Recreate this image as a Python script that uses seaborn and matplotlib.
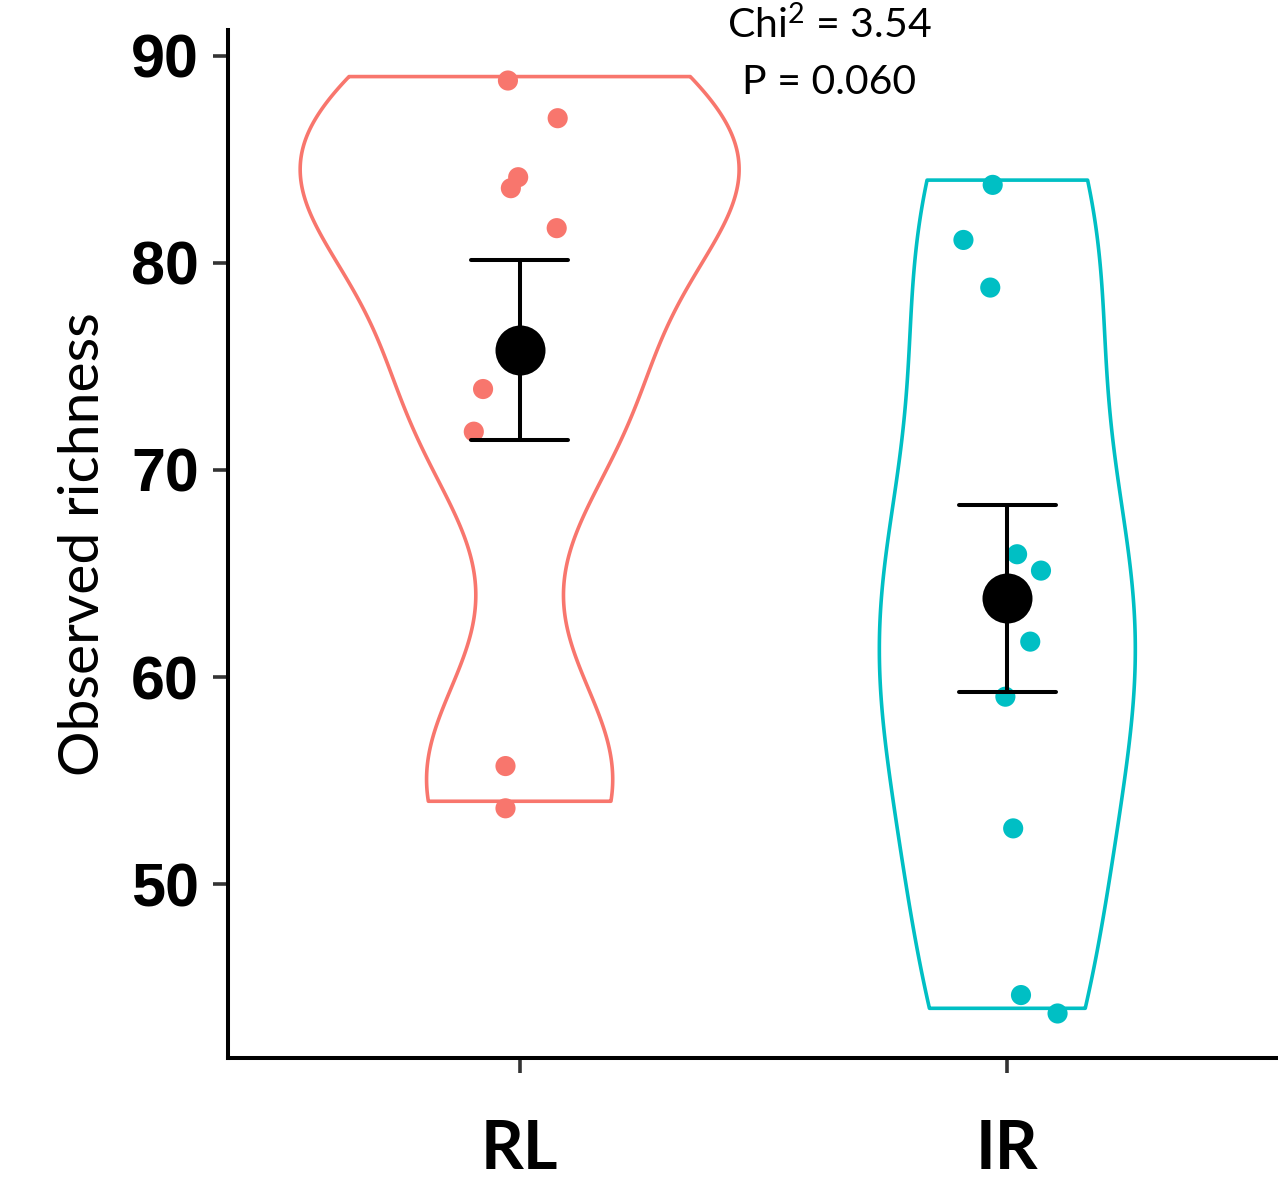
import numpy as np
import pandas as pd
import matplotlib
matplotlib.use("Agg")
import matplotlib.pyplot as plt
import seaborn as sns

# ---- data ----
groups = ["RL", "IR"]
colors = ["#F8766D", "#00BFC4"]

rl_values = [89, 87, 84, 84, 82, 74, 72, 56, 54]
ir_values = [84, 81, 79, 66, 65, 62, 59, 53, 45, 44]

# jitter of the plotted points (as seen in the figure)
rl_jitter_x = [-0.024, 0.078, -0.003, -0.018, 0.076, -0.075, -0.094, -0.029, -0.029]
rl_jitter_y = [-0.19, -0.01, 0.14, -0.39, -0.32, -0.09, -0.15, -0.30, -0.34]
ir_jitter_x = [-0.030, -0.090, -0.035, 0.020, 0.069, 0.047, -0.004, 0.012, 0.028, 0.103]
ir_jitter_y = [-0.23, 0.11, -0.19, -0.07, 0.14, -0.29, 0.05, -0.31, -0.36, -0.25]

y_ticks = [50, 60, 70, 80, 90]
stat_lines = ["Chi$^{2}$ = 3.54", "P = 0.060"]

df = pd.DataFrame({
    "group": ["RL"] * len(rl_values) + ["IR"] * len(ir_values),
    "value": rl_values + ir_values,
    "jx": rl_jitter_x + ir_jitter_x,
    "jy": rl_jitter_y + ir_jitter_y,
})
df["xpos"] = df["group"].map({g: i for i, g in enumerate(groups)}) + df["jx"]
df["ypos"] = df["value"] + df["jy"]


def nrd0_factor(kde):
    x = np.asarray(kde.dataset).ravel()
    sd = np.std(x, ddof=1)
    q1, q3 = np.percentile(x, [25, 75])
    bw = 0.9 * min(sd, (q3 - q1) / 1.34) * len(x) ** (-0.2)
    return bw / sd


sns.set_style("white")
plt.rcParams["text.color"] = "black"
plt.rcParams["axes.labelcolor"] = "black"
plt.rcParams["xtick.color"] = "black"
plt.rcParams["ytick.color"] = "black"
plt.rcParams["mathtext.fontset"] = "custom"
plt.rcParams["mathtext.rm"] = "Lato"
plt.rcParams["mathtext.it"] = "Lato"

fig = plt.figure(figsize=(12.78, 11.8), dpi=100)
ax = fig.add_axes([228 / 1278, 122 / 1180, 1 - 228 / 1278, 1028 / 1180])

sns.violinplot(data=df, x="group", y="value", hue="group", order=groups,
               hue_order=groups, palette=colors, fill=False, inner=None,
               cut=0, width=0.9, density_norm="area", common_norm=True,
               bw_method=nrd0_factor, gridsize=512, linewidth=2.6,
               legend=False, ax=ax)

sns.scatterplot(data=df, x="xpos", y="ypos", hue="group", hue_order=groups,
                palette=colors, s=210, linewidth=0, legend=False, ax=ax,
                zorder=3)

sns.pointplot(data=df, x="group", y="value", order=groups, errorbar="se",
              capsize=0.2, color="black", marker="o", linestyle="none",
              markersize=36, markeredgewidth=0,
              err_kws={"linewidth": 2.9}, ax=ax, zorder=5)

ax.set_xlim(-0.598, 1.555)
ax.set_ylim(41.6, 91.25)
ax.set_xticks(range(len(groups)))
ax.set_xticklabels(groups)
ax.set_yticks(y_ticks)
ax.set_yticklabels([str(t) for t in y_ticks])
ax.set_xlabel("")
ax.set_ylabel("Observed richness", fontsize=41, family="Lato", labelpad=16,
              color="black")

for s in ["top", "right"]:
    ax.spines[s].set_visible(False)
for s in ["left", "bottom"]:
    ax.spines[s].set_linewidth(2.9)
    ax.spines[s].set_color("black")

ax.tick_params(axis="both", bottom=True, left=True, length=11, width=2.6,
               color="#333333", labelcolor="black", direction="out")
ax.tick_params(axis="y", pad=10)
ax.tick_params(axis="x", pad=33)
for lab in ax.get_yticklabels():
    lab.set_fontfamily("Liberation Sans")
    lab.set_fontweight("bold")
    lab.set_fontsize(44)
for lab in ax.get_xticklabels():
    lab.set_fontfamily("Lato")
    lab.set_fontweight("bold")
    lab.set_fontsize(48)

ax.text(0.635, 90.87, stat_lines[0], ha="center", va="baseline",
        fontsize=29.5, family="Lato", color="black", clip_on=False)
ax.text(0.635, 88.16, stat_lines[1], ha="center", va="baseline",
        fontsize=29.5, family="Lato", color="black", clip_on=False)

fig.savefig("out.png", dpi=100)
